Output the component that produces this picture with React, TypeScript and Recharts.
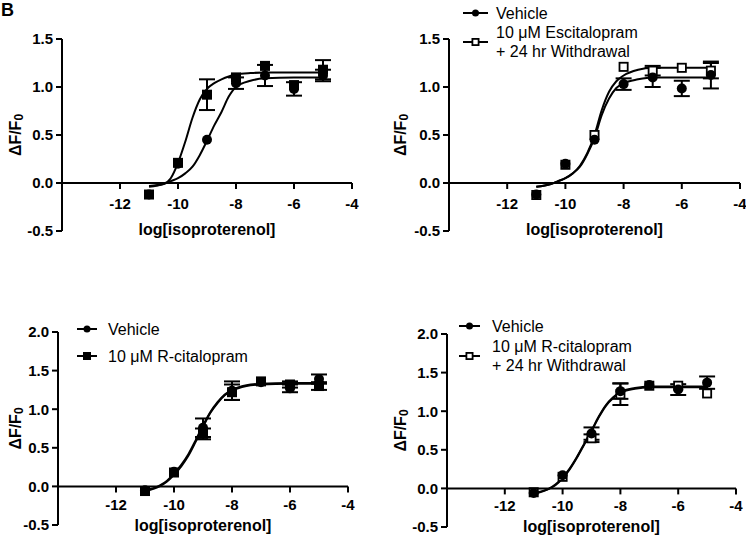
import { ComposedChart, ErrorBar, Line, ReferenceLine, Scatter, XAxis, YAxis } from "recharts";

const FONT = '"Liberation Sans", Arial, sans-serif';
const W = 373;
const H = 268;

// log[isoproterenol] doses
const doses = [-11, -10, -9, -8, -7, -6, -5];
const fitX = [-11, -10.5, -10.25, -10, -9.75, -9.5, -9.25, -9, -8.75, -8.5, -8.25, -8, -7.5, -7, -6, -5];

const xTicks = [-12, -10, -8, -6, -4];
const yTicksTop = [-0.5, 0, 0.5, 1, 1.5];
const yTicksBottom = [-0.5, 0, 0.5, 1, 1.5, 2];

// panel A
const aVehicle = [-0.12, 0.2, 0.45, 1.04, 1.12, 0.98, 1.12];
const aVehicleErr = [0, 0, 0, 0.06, 0.11, 0.07, 0.06];
const aEsc = [-0.12, 0.21, 0.92, 1.1, 1.22, 1.02, 1.18];
const aEscErr = [0, 0, 0.16, 0, 0, 0, 0.1];
const aVehicleFit = [-0.04, -0.01, 0.02, 0.05, 0.1, 0.17, 0.29, 0.44, 0.6, 0.74, 0.9, 1.0, 1.065, 1.09, 1.1, 1.1];
const aEscFit = [-0.03, -0.01, 0.05, 0.21, 0.43, 0.68, 0.87, 0.98, 1.04, 1.08, 1.11, 1.13, 1.145, 1.15, 1.15, 1.15];

// panel B
const bVehicle = [-0.12, 0.2, 0.45, 1.03, 1.1, 0.985, 1.125];
const bVehicleErr = [0, 0, 0, 0.06, 0.1, 0.08, 0.14];
const bWithdrawal = [-0.125, 0.19, 0.5, 1.21, 1.17, 1.2, 1.17];
const bWithdrawalErr = [0, 0, 0, 0, 0.05, 0, 0.08];
const bVehicleFit = [-0.04, -0.01, 0.02, 0.05, 0.1, 0.17, 0.3, 0.47, 0.71, 0.88, 0.99, 1.04, 1.08, 1.1, 1.1, 1.1];
const bWithdrawalFit = [-0.04, -0.01, 0.02, 0.05, 0.1, 0.18, 0.31, 0.5, 0.76, 0.95, 1.06, 1.12, 1.18, 1.2, 1.2, 1.2];

// panel C
const cVehicle = [-0.05, 0.19, 0.76, 1.24, 1.35, 1.27, 1.39];
const cVehicleErr = [0, 0, 0.12, 0.12, 0, 0.05, 0.06];
const cRcit = [-0.06, 0.18, 0.68, 1.22, 1.36, 1.32, 1.3];
const cRcitErr = [0, 0, 0.07, 0.1, 0, 0.04, 0.05];
const cVehicleFit = [-0.05, 0.01, 0.07, 0.17, 0.28, 0.42, 0.6, 0.79, 0.96, 1.09, 1.19, 1.25, 1.31, 1.33, 1.34, 1.34];
const cRcitFit = [-0.06, 0.0, 0.06, 0.15, 0.26, 0.4, 0.58, 0.77, 0.95, 1.08, 1.18, 1.24, 1.3, 1.32, 1.33, 1.33];

// panel D
const dVehicle = [-0.06, 0.17, 0.71, 1.26, 1.34, 1.28, 1.37];
const dVehicleErr = [0, 0, 0.08, 0.1, 0, 0.07, 0.08];
const dWithdrawal = [-0.05, 0.15, 0.65, 1.22, 1.33, 1.33, 1.23];
const dWithdrawalErr = [0, 0, 0.05, 0.14, 0, 0, 0];
const dVehicleFit = [-0.07, -0.01, 0.05, 0.14, 0.26, 0.41, 0.58, 0.75, 0.93, 1.08, 1.18, 1.25, 1.3, 1.32, 1.32, 1.32];
const dWithdrawalFit = [-0.06, -0.01, 0.04, 0.13, 0.25, 0.4, 0.57, 0.74, 0.92, 1.07, 1.17, 1.24, 1.29, 1.31, 1.31, 1.31];

type Marker = "circle" | "square" | "open";

const toPoints = (ys: number[], errs: number[]) =>
  doses.map((x, i) => ({ x, y: ys[i], err: errs[i] }));
const toFit = (ys: number[]) => fitX.map((x, i) => ({ x, y: ys[i] }));

function drawMarker(marker: Marker, cx: number, cy: number, size: number) {
  const h = size / 2;
  if (marker === "circle") return <circle cx={cx} cy={cy} r={h} fill="#000" />;
  if (marker === "square")
    return <rect x={cx - h} y={cy - h} width={size} height={size} fill="#000" />;
  return (
    <rect
      x={cx - h + 0.9}
      y={cy - h + 0.9}
      width={size - 1.8}
      height={size - 1.8}
      fill="#fff"
      stroke="#000"
      strokeWidth={1.8}
    />
  );
}

interface Series {
  marker: Marker;
  values: number[];
  errors: number[];
  fit: number[];
}

interface LegendEntry {
  marker: Marker;
  lines: string[];
  y: number;
}

interface PanelConfig {
  left: number;
  top: number;
  yAxisWidth: number;
  margin: { top: number; right: number; bottom: number };
  yMax: number;
  yTicks: number[];
  tickGap: number;
  titleGap: number;
  yLabelX: number;
  series: Series[]; // drawn in order, last on top
  legend?: { iconLeft: number; iconWidth: number; textLeft: number; entries: LegendEntry[] };
}

const X_AXIS_H = 1;

const panels: PanelConfig[] = [
  {
    left: 0,
    top: 0,
    yAxisWidth: 62,
    margin: { top: 39, right: 21, bottom: 37 },
    yMax: 1.5,
    yTicks: yTicksTop,
    tickGap: 20,
    titleGap: 46,
    yLabelX: 15,
    series: [
      { marker: "circle", values: aVehicle, errors: aVehicleErr, fit: aVehicleFit },
      { marker: "square", values: aEsc, errors: aEscErr, fit: aEscFit },
    ],
  },
  {
    left: 373,
    top: 0,
    yAxisWidth: 76,
    margin: { top: 39, right: 6, bottom: 37 },
    yMax: 1.5,
    yTicks: yTicksTop,
    tickGap: 20,
    titleGap: 46,
    yLabelX: 27,
    series: [
      { marker: "open", values: bWithdrawal, errors: bWithdrawalErr, fit: bWithdrawalFit },
      { marker: "circle", values: bVehicle, errors: bVehicleErr, fit: bVehicleFit },
    ],
    legend: {
      iconLeft: 90,
      iconWidth: 25,
      textLeft: 123,
      entries: [
        { marker: "circle", lines: ["Vehicle"], y: 13 },
        { marker: "open", lines: ["10 μM Escitalopram", "+ 24 hr Withdrawal"], y: 41.5 },
      ],
    },
  },
  {
    left: 0,
    top: 268,
    yAxisWidth: 58,
    margin: { top: 64, right: 25, bottom: 11 },
    yMax: 2,
    yTicks: yTicksBottom,
    tickGap: 18,
    titleGap: 39,
    yLabelX: 15,
    series: [
      { marker: "square", values: cRcit, errors: cRcitErr, fit: cRcitFit },
      { marker: "circle", values: cVehicle, errors: cVehicleErr, fit: cVehicleFit },
    ],
    legend: {
      iconLeft: 77,
      iconWidth: 20,
      textLeft: 108,
      entries: [
        { marker: "circle", lines: ["Vehicle"], y: 61 },
        { marker: "square", lines: ["10 μM R-citalopram"], y: 88 },
      ],
    },
  },
  {
    left: 373,
    top: 268,
    yAxisWidth: 74,
    margin: { top: 66, right: 10, bottom: 9 },
    yMax: 2,
    yTicks: yTicksBottom,
    tickGap: 17,
    titleGap: 38,
    yLabelX: 27,
    series: [
      { marker: "open", values: dWithdrawal, errors: dWithdrawalErr, fit: dWithdrawalFit },
      { marker: "circle", values: dVehicle, errors: dVehicleErr, fit: dVehicleFit },
    ],
    legend: {
      iconLeft: 86,
      iconWidth: 21,
      textLeft: 119,
      entries: [
        { marker: "circle", lines: ["Vehicle"], y: 58 },
        { marker: "open", lines: ["10 μM R-citalopram", "+ 24 hr Withdrawal"], y: 87.5 },
      ],
    },
  },
];

function PanelLegend({ legend }: { legend: NonNullable<PanelConfig["legend"]> }) {
  const lineHeight = 19;
  return (
    <>
      {legend.entries.map((e, i) => (
        <div key={i}>
          <svg
            width={legend.iconWidth}
            height={12}
            style={{ position: "absolute", left: legend.iconLeft, top: e.y - 6 }}
          >
            <line x1={0} x2={legend.iconWidth} y1={6} y2={6} stroke="#000" strokeWidth={2} />
            {drawMarker(e.marker, legend.iconWidth / 2, 6, e.marker === "circle" ? 7 : 8)}
          </svg>
          <div
            style={{
              position: "absolute",
              left: legend.textLeft,
              top: e.y - (lineHeight * e.lines.length) / 2,
              fontFamily: FONT,
              fontSize: 16,
              lineHeight: `${lineHeight}px`,
              whiteSpace: "nowrap",
              color: "#000",
            }}
          >
            {e.lines.map((l) => (
              <div key={l}>{l}</div>
            ))}
          </div>
        </div>
      ))}
    </>
  );
}

function Panel({ cfg }: { cfg: PanelConfig }) {
  const yMin = -0.5;
  const plotH = H - cfg.margin.top - cfg.margin.bottom;
  const plotW = W - cfg.yAxisWidth - cfg.margin.right;
  const zeroY = cfg.margin.top + (plotH * cfg.yMax) / (cfg.yMax - yMin);
  const midY = cfg.margin.top + plotH / 2;

  return (
    <div style={{ position: "absolute", left: cfg.left, top: cfg.top, width: W, height: H }}>
      <ComposedChart
        width={W}
        height={H}
        margin={{
          top: cfg.margin.top,
          right: cfg.margin.right,
          bottom: cfg.margin.bottom - X_AXIS_H,
          left: 0,
        }}
      >
        <XAxis
          type="number"
          dataKey="x"
          domain={[-14, -4]}
          ticks={xTicks}
          interval={0}
          height={X_AXIS_H}
          allowDataOverflow
          axisLine={false}
          tickLine={false}
          tick={(p: any) => (
            <g>
              <line x1={p.x} x2={p.x} y1={zeroY} y2={zeroY + 6} stroke="#000" strokeWidth={2} />
              <text
                x={p.x}
                y={zeroY + cfg.tickGap}
                textAnchor="middle"
                dominantBaseline="central"
                fontFamily={FONT}
                fontSize={15}
                fontWeight="bold"
                fill="#000"
              >
                {p.payload.value}
              </text>
            </g>
          )}
          label={() => (
            <text
              x={cfg.yAxisWidth + plotW / 2}
              y={zeroY + cfg.titleGap}
              textAnchor="middle"
              dominantBaseline="central"
              fontFamily={FONT}
              fontSize={16}
              fontWeight="bold"
              fill="#000"
            >
              log[isoproterenol]
            </text>
          )}
        />
        <YAxis
          type="number"
          domain={[yMin, cfg.yMax]}
          ticks={cfg.yTicks}
          interval={0}
          width={cfg.yAxisWidth}
          axisLine={{ stroke: "#000", strokeWidth: 2 }}
          tickLine={{ stroke: "#000", strokeWidth: 2 }}
          tickSize={6}
          tickMargin={3}
          tick={{ fill: "#000", fontSize: 15, fontWeight: "bold", fontFamily: FONT }}
          tickFormatter={(v: number) => v.toFixed(1)}
          label={() => (
            <text
              x={cfg.yLabelX}
              y={midY}
              transform={`rotate(-90 ${cfg.yLabelX} ${midY})`}
              textAnchor="middle"
              dominantBaseline="central"
              fontFamily={FONT}
              fontSize={16}
              fontWeight="bold"
              fill="#000"
            >
              ΔF/F
              <tspan fontSize={12} dy={4}>
                0
              </tspan>
            </text>
          )}
        />
        <ReferenceLine y={0} stroke="#000" strokeWidth={2} />
        {cfg.series.map((s, i) => (
          <Line
            key={`fit-${i}`}
            data={toFit(s.fit)}
            dataKey="y"
            type="monotone"
            dot={false}
            activeDot={false}
            stroke="#000"
            strokeWidth={2}
            isAnimationActive={false}
          />
        ))}
        {cfg.series.map((s, i) => (
          <Scatter
            key={`pts-${i}`}
            data={toPoints(s.values, s.errors)}
            dataKey="y"
            isAnimationActive={false}
            shape={(p: any) => drawMarker(s.marker, p.cx, p.cy, 10)}
          >
            <ErrorBar dataKey="err" direction="y" width={8} stroke="#000" strokeWidth={2} />
          </Scatter>
        ))}
      </ComposedChart>
      {cfg.legend && <PanelLegend legend={cfg.legend} />}
    </div>
  );
}

export default function App() {
  return (
    <div
      style={{
        position: "absolute",
        left: 0,
        top: 0,
        width: 746,
        height: 536,
        background: "#fff",
        overflow: "hidden",
      }}
    >
      {panels.map((p, i) => (
        <Panel key={i} cfg={p} />
      ))}
      <div
        style={{
          position: "absolute",
          left: 1,
          top: 0,
          fontFamily: FONT,
          fontWeight: "bold",
          fontSize: 18,
          lineHeight: "20px",
          color: "#000",
        }}
      >
        B
      </div>
    </div>
  );
}
